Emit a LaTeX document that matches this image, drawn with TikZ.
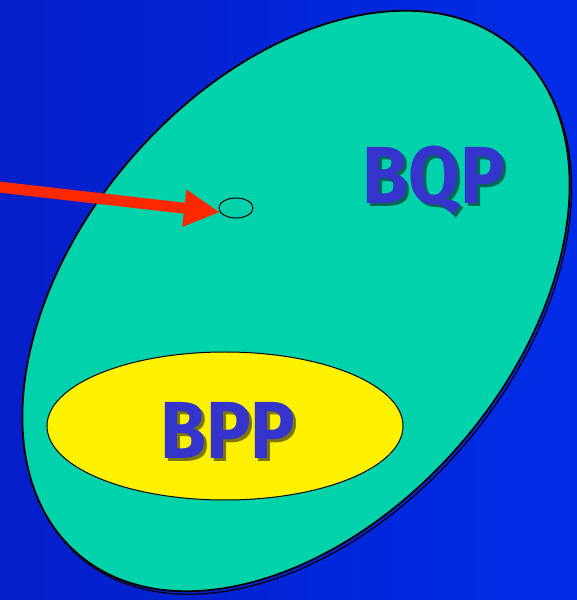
\documentclass[tikz,border=0pt]{standalone}
\usepackage{fontspec}
\setmainfont{Fira Sans}
\usepackage{graphicx}
\usepackage{tikz}
\usetikzlibrary{shapes.geometric,arrows.meta}

\definecolor{bgleft}{RGB}{4,30,200}
\definecolor{bgright}{RGB}{0,44,232}
\definecolor{qteal}{RGB}{0,210,172}
\definecolor{labelblue}{RGB}{52,52,204}
\definecolor{arrowred}{RGB}{255,40,0}

\newcommand{\classname}[1]{\scalebox{0.92}[1]{#1}}

\begin{document}
\begin{tikzpicture}[
    x=1pt, y=1pt,
    classlabel/.style={text=labelblue, font=\bfseries\fontsize{81}{90}\selectfont, inner sep=0pt},
    labelshadow/.style={text=black, opacity=0.5, font=\bfseries\fontsize{81}{90}\selectfont, inner sep=0pt}
  ]
    \useasboundingbox (0,0) rectangle (577,600);
    \shade[left color=bgleft, right color=bgright] (0,0) rectangle (577,600);
    % the two classes
    \node[ellipse, draw=black, line width=1.2pt, minimum width=668pt, minimum height=436pt,
      inner sep=0pt, rotate=49.2] (bqpshade) at (298,296) {};
    \node[ellipse, draw=black, fill=qteal, line width=1.8pt, minimum width=668pt, minimum height=436pt,
      inner sep=0pt, rotate=49.2] (bqpset) at (296,299) {};
    \node[ellipse, draw=black, fill=yellow, line width=1pt, minimum width=356pt, minimum height=148pt,
      inner sep=0pt] (bppset) at (225,174) {};
    \node[ellipse, draw=black, line width=1pt, minimum width=34pt, minimum height=20pt,
      inner sep=0pt] (dot) at (236,392) {};
    % labels
    \node[labelshadow] at (437,416) {\classname{BQP}};
    \node[classlabel] (bqp) at (434,419) {\classname{BQP}};
    \node[labelshadow] at (231,167) {\classname{BPP}};
    \node[classlabel] (bpp) at (228,170) {\classname{BPP}};
    % pointer
    \coordinate (src) at (-10,414);
    \draw[arrowred, line width=11pt, -{Triangle[length=36pt,width=35pt]}] (src) -- (dot.195);
\end{tikzpicture}
\end{document}
